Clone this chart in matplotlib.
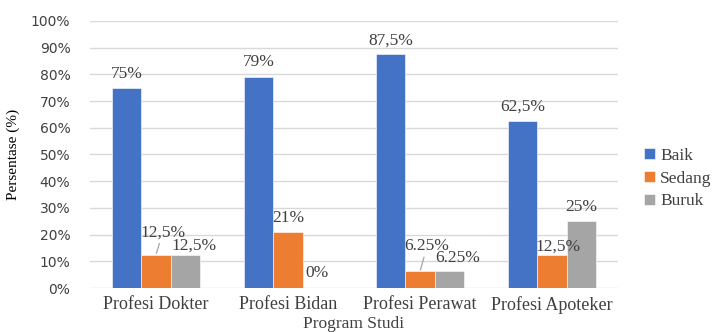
import matplotlib.pyplot as plt
import numpy as np
from matplotlib.ticker import FuncFormatter

programs = ["Profesi Dokter", "Profesi Bidan", "Profesi Perawat", "Profesi Apoteker"]
series = ["Baik", "Sedang", "Buruk"]
baik = [75, 79, 87.5, 62.5]
sedang = [12.5, 21, 6.25, 12.5]
buruk = [12.5, 0, 6.25, 25]
baik_labels = ["75%", "79%", "87,5%", "62,5%"]
sedang_labels = ["12,5%", "21%", "6.25%", "12,5%"]
buruk_labels = ["12,5%", "0%", "6.25%", "25%"]

colors = ["#4472C4", "#ED7D31", "#A5A5A5"]
# label offsets (pixels) from each bar top, plus whether a leader line is drawn
offsets = {
    "Baik": [(0, 14), (0, 15), (0, 14), (0, 14)],
    "Sedang": [(7, 22), (0, 14), (7, 25), (6, 8)],
    "Buruk": [(9, 9), (0, 15), (8, 13), (0, 14)],
}
leaders = {"Sedang": [True, False, True, False]}

serif = "Liberation Serif"

fig = plt.figure(figsize=(7.13, 3.32), dpi=100)
ax = fig.add_axes([0.126, 0.1325, 0.741, 0.8045])

x = np.arange(len(programs))
width = 0.2235
values = [baik, sedang, buruk]
labels = [baik_labels, sedang_labels, buruk_labels]

for k, name in enumerate(series):
    pos = x + (k - 1) * width
    bars = ax.bar(pos, values[k], width, color=colors[k], label=name,
                  edgecolor="white", linewidth=0.4, zorder=2)
    for i, b in enumerate(bars):
        dx, dy = offsets[name][i]
        line = leaders.get(name, [False] * 4)[i]
        ax.annotate(labels[k][i], xy=(b.get_x() + b.get_width() / 2, values[k][i]),
                    xytext=(dx, dy), textcoords="offset pixels",
                    ha="center", va="center", fontsize=12.5, family=serif,
                    color="#404040",
                    arrowprops=dict(arrowstyle="-", color="#a6a6a6", lw=0.9,
                                    shrinkA=0, shrinkB=1) if line else None,
                    zorder=3)

ax.set_xlim(-0.5, 3.5)
ax.set_ylim(0, 100)
ax.set_yticks(np.arange(0, 101, 10))
ax.yaxis.set_major_formatter(FuncFormatter(lambda v, _: f"{v:.0f}%"))
ax.set_xticks(x)
ax.set_xticklabels(programs, family=serif, fontsize=13, color="#404040")
ax.tick_params(axis="y", labelsize=10, colors="#404040", length=0, pad=14)
ax.tick_params(axis="x", length=0, pad=6)
ax.grid(axis="y", color="#d9d9d9", linewidth=1, zorder=0)
for s in ax.spines.values():
    s.set_visible(False)

ax.set_ylabel("Persentase (%)", family=serif, fontsize=11, labelpad=8)
ax.set_xlabel("Program Studi", family=serif, fontsize=12.5, labelpad=1, color="#404040")

ax.legend(loc="center left", bbox_to_anchor=(1.02, 0.41), frameon=False,
          prop={"family": serif, "size": 12.5}, handlelength=0.6, handleheight=0.6,
          handletextpad=0.3, labelspacing=0.4, labelcolor="#404040")

fig.savefig("out.png", dpi=100)
